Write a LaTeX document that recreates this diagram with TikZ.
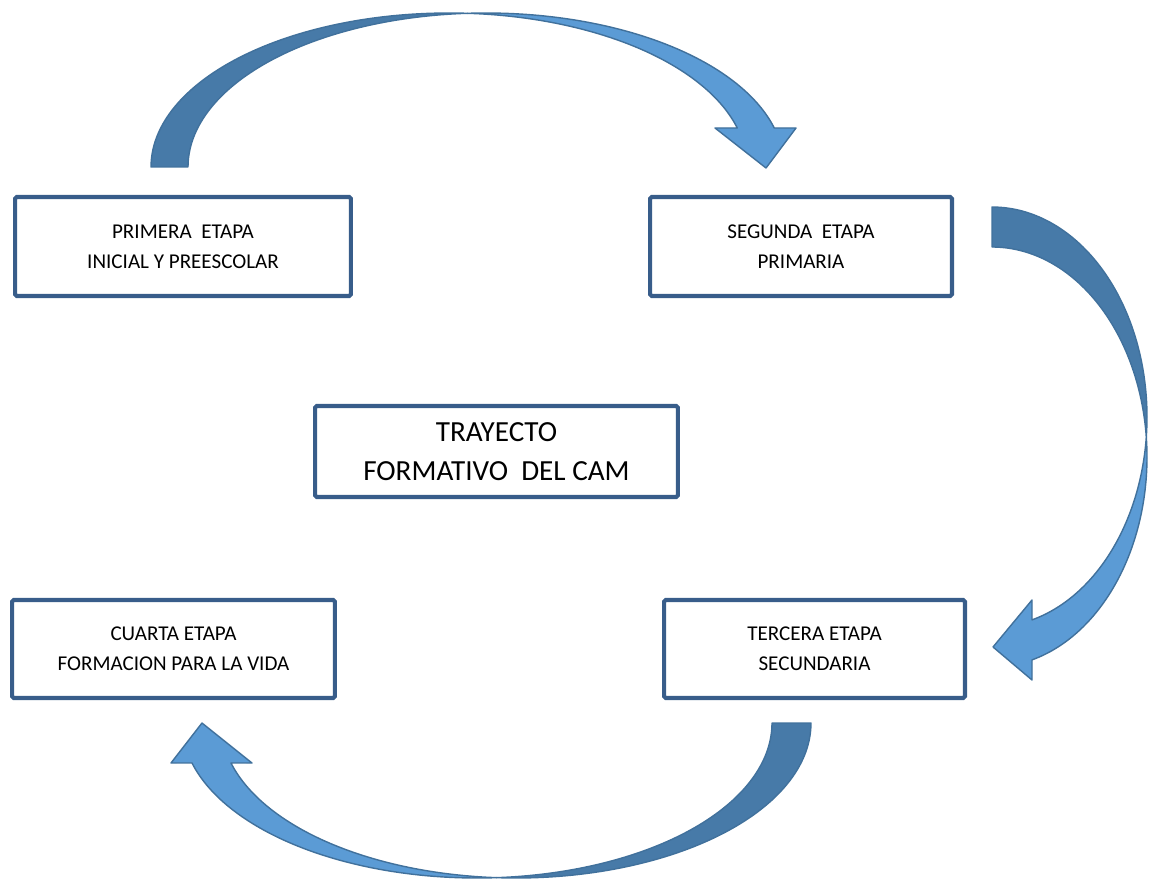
\documentclass[tikz,border=0pt]{standalone}
\usepackage{fontspec}
\setmainfont{Carlito}
\definecolor{boxline}{RGB}{56,93,138}
\definecolor{arrdark}{RGB}{71,122,168}
\definecolor{arrlight}{RGB}{91,155,213}
\definecolor{arredge}{RGB}{65,113,156}
\begin{document}
\begin{tikzpicture}[x=0.02cm,y=-0.02cm,
  stage/.style={draw=boxline, line width=2.3pt, rectangle, rounded corners=1pt, align=center, inner sep=0pt, text=black, font=\fontsize{12}{17}\selectfont},
  darkpart/.style={fill=arrdark, draw=arredge, line width=0.8pt, line join=round},
  lightpart/.style={fill=arrlight, draw=arredge, line width=0.8pt, line join=round}]
\useasboundingbox (0,0) rectangle (1156,888);

% top curved arrow: ellipses A (centre 449) and B (centre 486), rx 298, ry 154, centre y 167
\path[darkpart] plot[domain=180:86.44,samples=70,variable=\t] ({449+298*cos(\t)},{167-154*sin(\t)})
  -- plot[domain=93.56:180,samples=70,variable=\t] ({486+298*cos(\t)},{167-154*sin(\t)}) -- cycle;
\path[lightpart] plot[domain=93.56:14.67,samples=70,variable=\t] ({486+298*cos(\t)},{167-154*sin(\t)})
  -- (796,128) -- (766,168) -- (715,128)
  -- plot[domain=14.67:86.44,samples=70,variable=\t] ({449+298*cos(\t)},{167-154*sin(\t)}) -- cycle;

% right curved arrow: ellipses A (centre y 417) and B (centre y 457), rx 155, ry 210, centre x 992
\path[darkpart] plot[domain=90:-5.47,samples=70,variable=\t] ({992+155*cos(\t)},{417-210*sin(\t)})
  -- plot[domain=5.47:90,samples=70,variable=\t] ({992+155*cos(\t)},{457-210*sin(\t)}) -- cycle;
\path[lightpart] plot[domain=5.47:-75.04,samples=70,variable=\t] ({992+155*cos(\t)},{457-210*sin(\t)})
  -- (1032,680) -- (993,647) -- (1032,600)
  -- plot[domain=-75.04:-5.47,samples=70,variable=\t] ({992+155*cos(\t)},{417-210*sin(\t)}) -- cycle;

% bottom curved arrow: ellipses A (centre 516) and B (centre 477), rx 295, ry 155, centre y 723
\path[darkpart] plot[domain=0:-93.79,samples=70,variable=\t] ({516+295*cos(\t)},{723-155*sin(\t)})
  -- plot[domain=-86.21:0,samples=70,variable=\t] ({477+295*cos(\t)},{723-155*sin(\t)}) -- cycle;
\path[lightpart] plot[domain=-86.21:-165.05,samples=70,variable=\t] ({477+295*cos(\t)},{723-155*sin(\t)})
  -- (171,763) -- (202,723) -- (252,763)
  -- plot[domain=-165.05:-93.79,samples=70,variable=\t] ({516+295*cos(\t)},{723-155*sin(\t)}) -- cycle;

% boxes
\node[stage, minimum width=6.72cm, minimum height=1.98cm] (s1) at (183,246.5) {PRIMERA\ \ ETAPA\\INICIAL Y PREESCOLAR};
\node[stage, minimum width=6.04cm, minimum height=1.98cm] (s2) at (801,246.5) {SEGUNDA\ \ ETAPA\\PRIMARIA};
\node[stage, minimum width=7.26cm, minimum height=1.82cm, font=\fontsize{16.6}{22}\selectfont] (c) at (496.5,451.5) {TRAYECTO\\FORMATIVO\ \ DEL CAM};
\node[stage, minimum width=6.46cm, minimum height=1.96cm] (s4) at (173.5,649) {CUARTA ETAPA\\FORMACION PARA LA VIDA};
\node[stage, minimum width=6.02cm, minimum height=1.96cm] (s3) at (814.5,649) {TERCERA ETAPA\\SECUNDARIA};
\end{tikzpicture}
\end{document}
